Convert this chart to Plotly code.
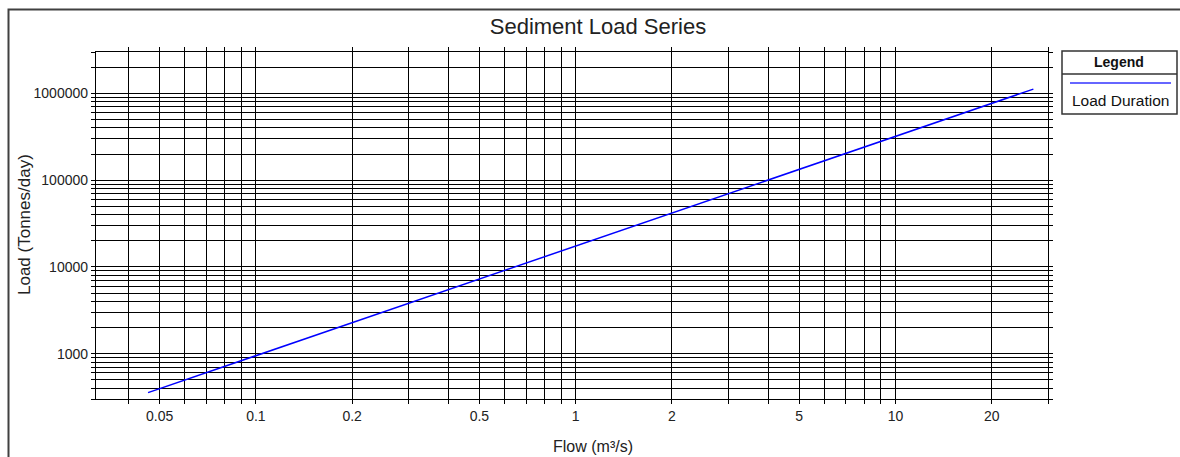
import math
import plotly.graph_objects as go

# ---- data ----
flow = [0.046, 0.1, 0.2, 0.5, 1, 2, 5, 10, 20, 27]
load = [355, 945, 2270, 7230, 17400, 41800, 133000, 320000, 769000, 1120000]

x_grid = [0.04, 0.05, 0.06, 0.07, 0.08, 0.09,
          0.1, 0.2, 0.3, 0.4, 0.5, 0.6, 0.7, 0.8, 0.9,
          1, 2, 3, 4, 5, 6, 7, 8, 9,
          10, 20, 30]
x_labels = {0.05: "0.05", 0.1: "0.1", 0.2: "0.2", 0.5: "0.5", 1: "1",
            2: "2", 5: "5", 10: "10", 20: "20"}

y_grid = [300, 400, 500, 600, 700, 800, 900,
          1000, 2000, 3000, 4000, 5000, 6000, 7000, 8000, 9000,
          10000, 20000, 30000, 40000, 50000, 60000, 70000, 80000, 90000,
          100000, 200000, 300000, 400000, 500000, 600000, 700000, 800000, 900000,
          1000000, 2000000, 3000000]
y_labels = {1000: "1000", 10000: "10000", 100000: "100000", 1000000: "1000000"}

series_name = "Load Duration"
title_text = "Sediment Load Series"
x_title = "Flow (m³/s)"
y_title = "Load (Tonnes/day)"

# ---- geometry (page pixels) ----
W, H = 1180, 457
PL, PR, PT, PB = 96, 1048, 52, 399          # plot area in page pixels
L, R, T, B = PL, W - PR, PT, H - PB
PW, PH = PR - PL, PB - PT


def px(x):
    return (x - PL) / PW


def py(y):
    return (PB - y) / PH


FONT = "Liberation Sans, Arial, sans-serif"

fig = go.Figure()
fig.add_trace(go.Scatter(x=flow, y=load, mode="lines", name=series_name,
                         line=dict(color="#0000ff", width=1.5),
                         showlegend=False))

axis_common = dict(
    type="log", showgrid=True, gridcolor="#000000", gridwidth=1.3,
    showline=True, linecolor="#000000", linewidth=1.3, mirror="ticks",
    ticks="outside", ticklen=4, tickcolor="#000000", tickwidth=1.3,
    zeroline=False, tickfont=dict(family=FONT, size=14, color="#222222"),
)

fig.update_xaxes(range=[-1.5, math.log10(30)], tickmode="array",
                 tickvals=x_grid,
                 ticktext=[x_labels.get(v, "") for v in x_grid],
                 **axis_common)
fig.update_yaxes(range=[math.log10(300), math.log10(3000000)], tickmode="array",
                 tickvals=y_grid,
                 ticktext=[y_labels.get(v, "") for v in y_grid],
                 **axis_common)

shapes = [
    # outer frame
    dict(type="rect", xref="paper", yref="paper",
         x0=px(8.5), x1=px(W + 10), y0=py(H + 10), y1=py(9.5),
         line=dict(color="#404040", width=2), fillcolor="rgba(0,0,0,0)"),
    # legend box
    dict(type="rect", xref="paper", yref="paper",
         x0=px(1062), x1=px(1177), y0=py(114), y1=py(51),
         line=dict(color="#333333", width=1.5), fillcolor="white"),
    dict(type="line", xref="paper", yref="paper",
         x0=px(1062), x1=px(1177), y0=py(74), y1=py(74),
         line=dict(color="#333333", width=1.5)),
    # legend sample line
    dict(type="line", xref="paper", yref="paper",
         x0=px(1070), x1=px(1171), y0=py(83), y1=py(83),
         line=dict(color="#3333ff", width=1.5)),
]

annotations = [
    dict(text="<b>Legend</b>", xref="paper", yref="paper", x=px(1119), y=py(62),
         showarrow=False, xanchor="center", yanchor="middle",
         font=dict(family=FONT, size=14, color="#111111")),
    dict(text=series_name, xref="paper", yref="paper", x=px(1120), y=py(100),
         showarrow=False, xanchor="center", yanchor="middle",
         font=dict(family=FONT, size=15.5, color="#111111")),
    dict(text=x_title, xref="paper", yref="paper", x=px(593), y=py(446),
         showarrow=False, xanchor="center", yanchor="middle",
         font=dict(family=FONT, size=16, color="#222222")),
    dict(text=y_title, xref="paper", yref="paper", x=px(24), y=py(225),
         showarrow=False, xanchor="center", yanchor="middle", textangle=-90,
         font=dict(family=FONT, size=17, color="#222222")),
]

fig.update_layout(
    width=W, height=H,
    margin=dict(l=L, r=R, t=T, b=B, pad=0),
    paper_bgcolor="white", plot_bgcolor="white",
    title=dict(text=title_text, x=598 / W, xref="container",
               xanchor="center",
               y=1 - 26 / H, yref="container", yanchor="middle",
               font=dict(family=FONT, size=22, color="#222222")),
    shapes=shapes, annotations=annotations, showlegend=False,
)

fig.write_html(
    "out.html",
    config={"displayModeBar": False},
    post_script="document.body.style.margin='0';"
                "document.body.style.overflow='hidden';",
)
